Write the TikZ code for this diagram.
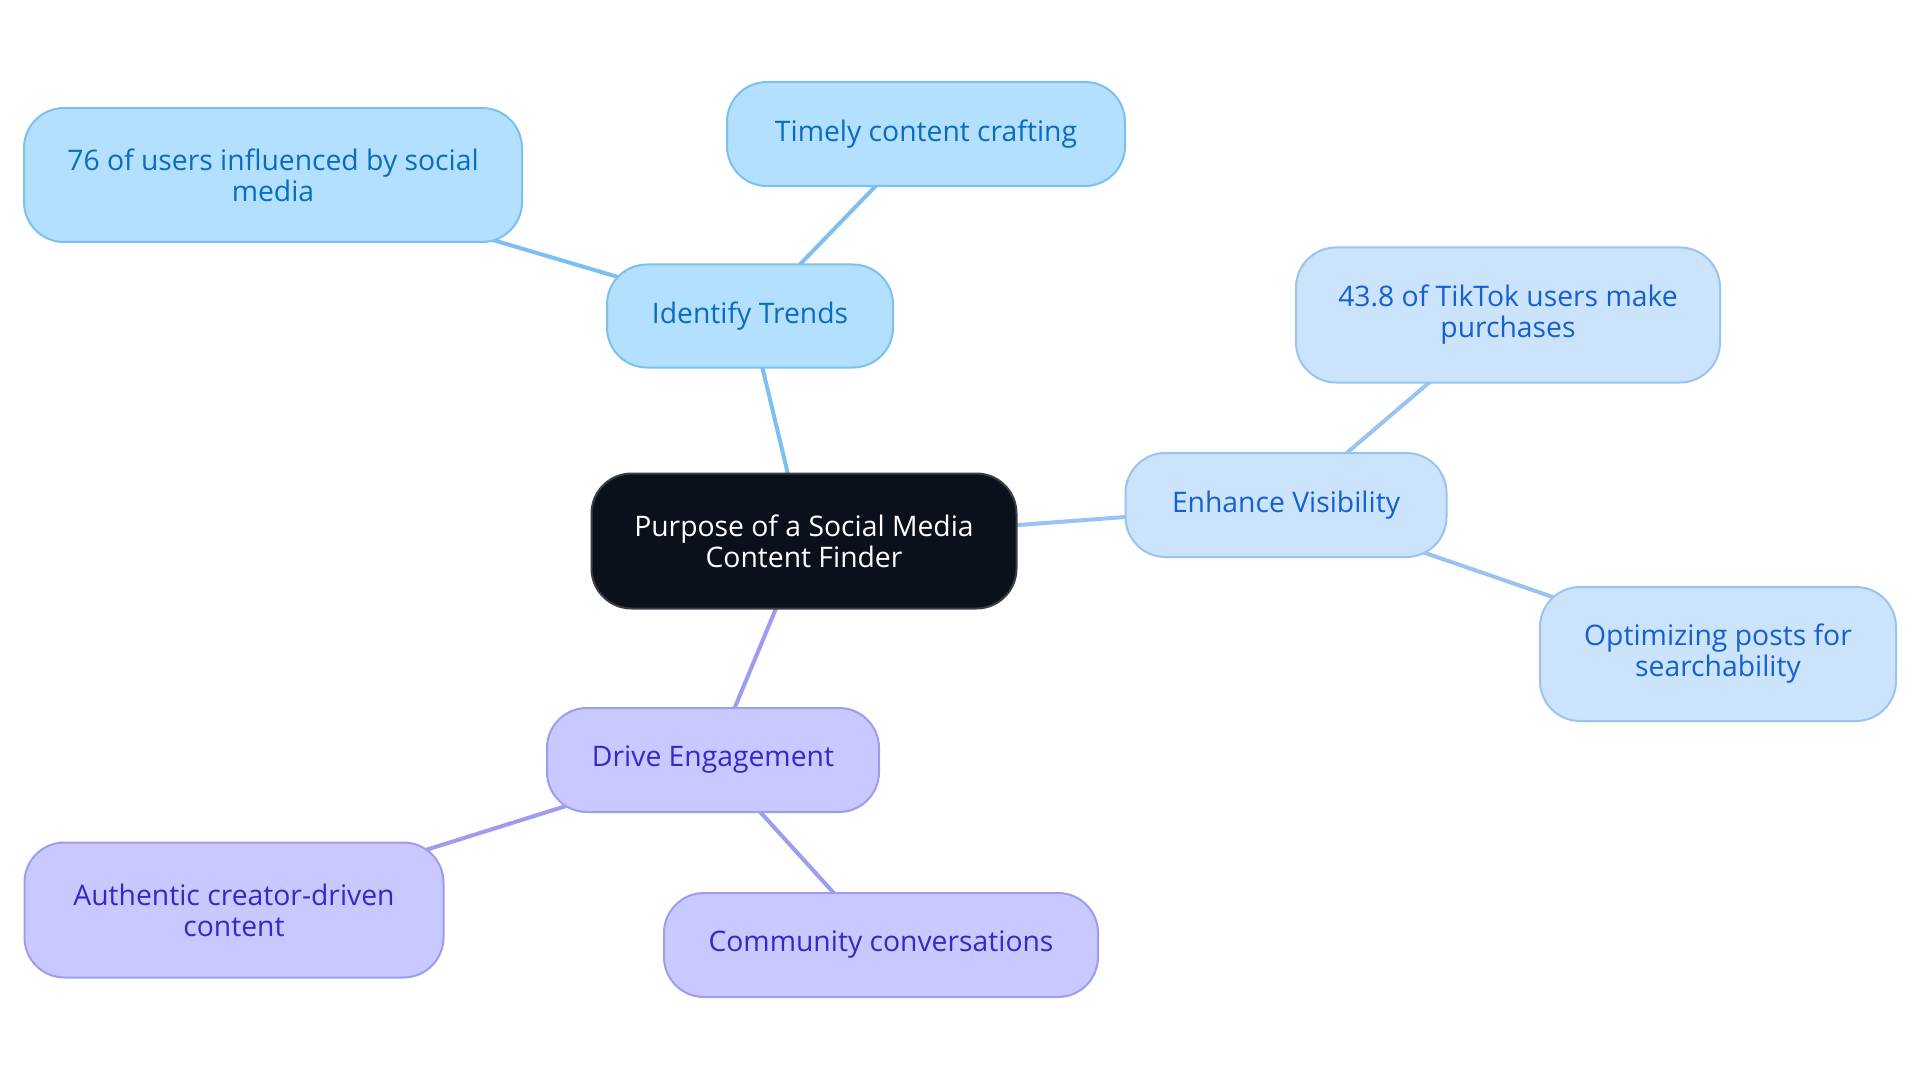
\documentclass[tikz,border=0pt]{standalone}
\usepackage{fontspec}
\setmainfont{Open Sans}
\usetikzlibrary{backgrounds}
\definecolor{cdark}{HTML}{0B111B}
\definecolor{cdarkb}{HTML}{3A3F47}
\definecolor{aFill}{HTML}{B3E0FF}
\definecolor{aLine}{HTML}{7CC0F0}
\definecolor{aText}{HTML}{0A6CC0}
\definecolor{bFill}{HTML}{CCE3FC}
\definecolor{bLine}{HTML}{99C3F0}
\definecolor{bText}{HTML}{1560D0}
\definecolor{cFill}{HTML}{C9C9FF}
\definecolor{cLine}{HTML}{9C9CF0}
\definecolor{cText}{HTML}{3528C8}
\tikzset{
  box/.style={rounded corners=40pt, line width=2pt, align=center, inner sep=0pt,
    font=\fontsize{28.3pt}{31pt}\selectfont},
  root/.style={box, fill=cdark, draw=cdarkb, text=white},
  abox/.style={box, fill=aFill, draw=aLine, text=aText},
  bbox/.style={box, fill=bFill, draw=bLine, text=bText},
  cbox/.style={box, fill=cFill, draw=cLine, text=cText},
  aedge/.style={draw=aLine, line width=4pt},
  bedge/.style={draw=bLine, line width=4pt},
  cedge/.style={draw=cLine, line width=4pt},
}
\begin{document}
\begin{tikzpicture}[x=1pt,y=-1pt]
\useasboundingbox (0,0) rectangle (1920,1083);
\node[root, minimum width=425pt, minimum height=135pt] (root) at (804,541) {Purpose of a Social Media\\Content Finder};
\node[abox, minimum width=286pt, minimum height=103pt] (trends) at (750,316) {Identify Trends};
\node[abox, minimum width=398pt, minimum height=104pt] (timely) at (926,134) {Timely content crafting};
\node[abox, minimum width=498pt, minimum height=134pt] (users) at (273,175) {76 of users influenced by social\\media};
\node[bbox, minimum width=321pt, minimum height=104pt] (vis) at (1286,505) {Enhance Visibility};
\node[bbox, minimum width=424pt, minimum height=135pt] (tiktok) at (1508,315) {43.8 of TikTok users make\\purchases};
\node[bbox, minimum width=356pt, minimum height=134pt] (optim) at (1718,654) {Optimizing posts for\\searchability};
\node[cbox, minimum width=332pt, minimum height=104pt] (drive) at (713,760) {Drive Engagement};
\node[cbox, minimum width=419pt, minimum height=135pt] (auth) at (234,910) {Authentic creator-driven\\content};
\node[cbox, minimum width=434pt, minimum height=104pt] (comm) at (881,945) {Community conversations};
\begin{scope}[on background layer]
\draw[aedge] (root.center) -- (trends.center);
\draw[aedge] (trends.center) -- (timely.center);
\draw[aedge] (trends.center) -- (users.center);
\draw[bedge] (root.center) -- (vis.center);
\draw[bedge] (vis.center) -- (tiktok.center);
\draw[bedge] (vis.center) -- (optim.center);
\draw[cedge] (root.center) -- (drive.center);
\draw[cedge] (drive.center) -- (auth.center);
\draw[cedge] (drive.center) -- (comm.center);
\end{scope}
\end{tikzpicture}
\end{document}
